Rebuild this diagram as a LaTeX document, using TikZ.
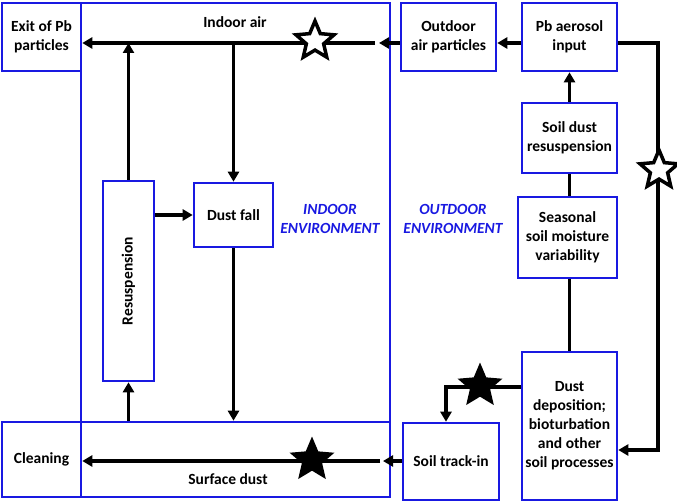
\documentclass[tikz,border=0pt]{standalone}
\usepackage{fontspec}
\setmainfont{Carlito}
\usetikzlibrary{arrows.meta,shapes.geometric}
\definecolor{bbox}{RGB}{25,25,225}
\begin{document}
\begin{tikzpicture}[x=1pt,y=-1pt,
 box/.style={draw=bbox, line width=2.6pt, rectangle, inner sep=0pt, align=center, font=\bfseries\fontsize{15.5}{19}\selectfont},
 arr/.style={line width=3.3pt, -{Triangle[length=10pt,width=11pt]}},
 ln/.style={line width=3.3pt},
 lbl/.style={font=\bfseries\fontsize{15.5}{19}\selectfont, align=center, inner sep=0pt},
 envlbl/.style={text=bbox, font=\bfseries\itshape\fontsize{15.5}{19}\selectfont, align=center, inner sep=0pt},
 ostar/.style={star, star points=5, star point ratio=2.2, draw=black, fill=white, line width=3.5pt, minimum size=40pt, inner sep=0pt},
 fstar/.style={star, star points=5, star point ratio=2.2, fill=black, minimum size=47pt, inner sep=0pt}]
\useasboundingbox (0,0) rectangle (677,503);
% indoor side
\node[box, minimum width=309pt, minimum height=419pt] (indoor) at (235.5,212.5) {};
\node[box, minimum width=309pt, minimum height=75pt] (surface) at (235.5,459.5) {};
\node[box, minimum width=79pt, minimum height=68pt] (exit) at (41.5,37) {Exit of Pb\\particles};
\node[box, minimum width=79pt, minimum height=75pt] (cleaning) at (41.5,459.5) {Cleaning};
\node[box, minimum width=51pt, minimum height=200pt] (resus) at (128.5,281) {};
\node[lbl, rotate=90] (resustxt) at (resus.center) {Resuspension};
\node[box, minimum width=79pt, minimum height=64pt] (dustfall) at (233.5,215) {Dust fall};
\node[lbl] (indoorair) at (235,22) {Indoor air};
\node[lbl] (surfdust) at (228,479) {Surface dust};
\node[envlbl] (inenv) at (330,219) {INDOOR\\ENVIRONMENT};
% outdoor side
\node[box, minimum width=95pt, minimum height=68pt] (outdoor) at (448.5,37) {Outdoor\\air particles};
\node[box, minimum width=95pt, minimum height=68pt] (pbaer) at (569.5,37) {Pb aerosol\\input};
\node[box, minimum width=95pt, minimum height=70pt] (soilres) at (569.5,138) {Soil dust\\resuspension};
\node[box, minimum width=99pt, minimum height=81pt] (seasonal) at (567.5,237.5) {Seasonal\\soil moisture\\variability};
\node[box, minimum width=95pt, minimum height=148pt] (dustdep) at (569.5,426) {Dust\\deposition;\\bioturbation\\and other\\soil processes};
\node[box, minimum width=96pt, minimum height=77pt] (soiltrack) at (451,461.5) {Soil track-in};
\node[envlbl] (outenv) at (453,219) {OUTDOOR\\ENVIRONMENT};
% coordinates
\coordinate (inA) at (379,43);
\coordinate (inB) at (375,43);
\coordinate (sA) at (383,461);
\coordinate (sB) at (380,461);
\coordinate (rc) at (658,450);
\coordinate (tk) at (446,387);
% connectors
\draw[arr] (outdoor.west |- inA) -- (inA);
\draw[arr] (inB) -- (inB -| exit.east);
\draw[arr] (resus.north) -- (resus.north |- inA);
\draw[arr] (dustfall.north |- inA) -- (dustfall.north);
\draw[arr] (resus.east |- dustfall.west) -- (dustfall.west);
\draw[arr] (dustfall.south) -- (dustfall.south |- surface.north);
\draw[arr] (surface.north -| resus.south) -- (resus.south);
\draw[arr] (soiltrack.west |- sA) -- (sA);
\draw[arr] (sB) -- (sB -| cleaning.east);
\draw[arr] (pbaer.west |- inA) -- (outdoor.east |- inA);
\draw[arr] (soilres.north) -- (pbaer.south);
\draw[ln] (soilres.south) -- (soilres.south |- seasonal.north);
\draw[ln] (dustdep.north |- seasonal.south) -- (dustdep.north);
\draw[arr] (pbaer.east |- inA) -| (rc) -- (rc -| dustdep.east);
\draw[arr] (dustdep.west |- tk) -| (soiltrack.north -| tk);
% stars
\node[ostar] (star1) at (315,41) {};
\node[ostar] (star2) at (659,170) {};
\node[fstar] (star3) at (312,460) {};
\node[fstar] (star4) at (480,386) {};
\end{tikzpicture}
\end{document}
